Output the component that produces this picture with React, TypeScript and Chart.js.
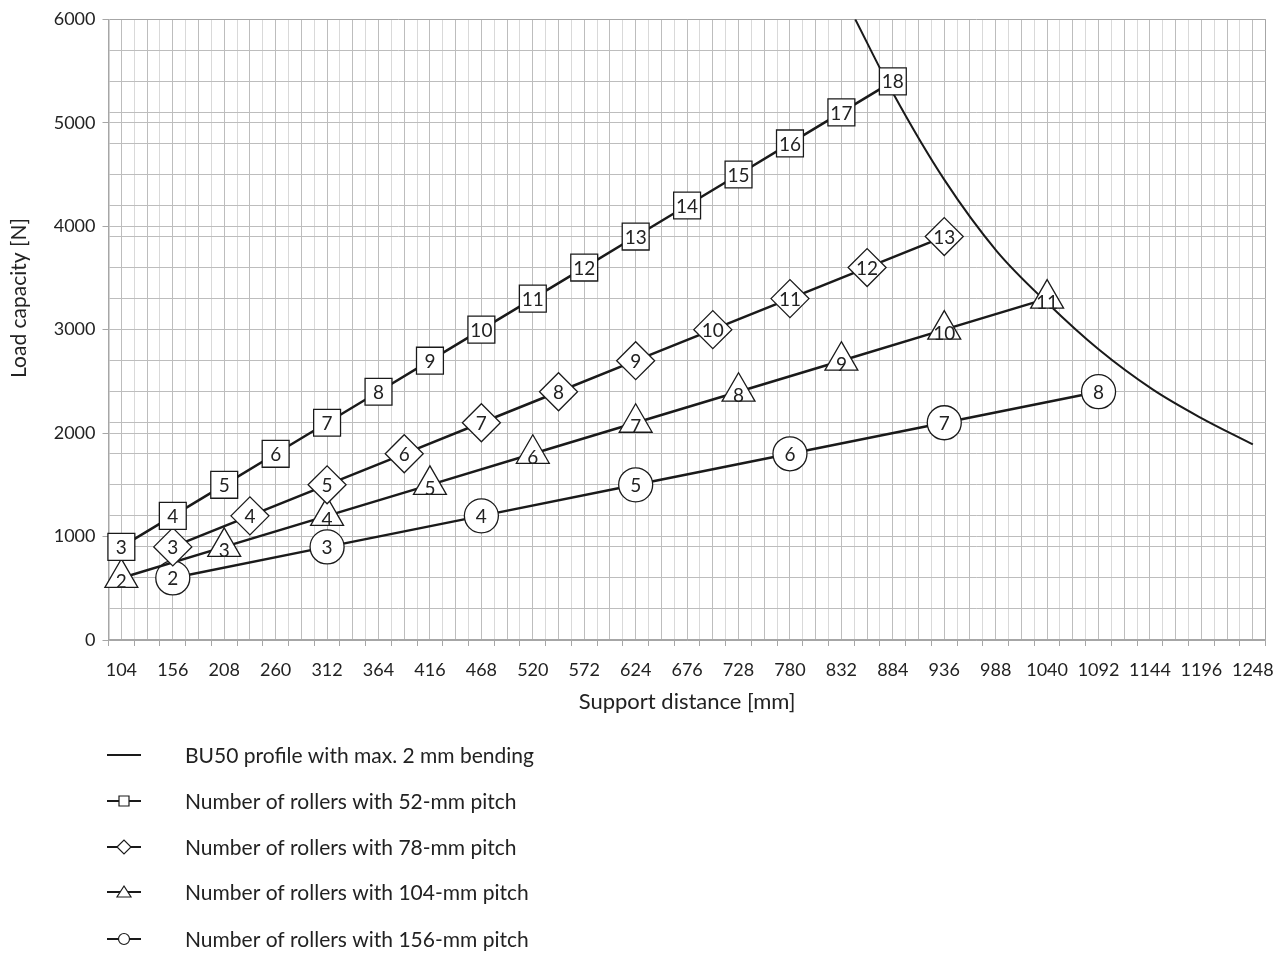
import React, { useEffect, useRef } from 'react';
import { Chart, registerables } from 'chart.js';

Chart.register(...registerables);

const FONT = 'Lato, "DejaVu Sans", sans-serif';
const TEXT = '#222222';
const LINE = '#1a1a1a';
const AXIS = '#a6a6a6';
const GRID_DARK = '#bdbdbd';
const GRID_LIGHT = '#d9d9d9';

// tick labels
const xTickLabels = [104, 156, 208, 260, 312, 364, 416, 468, 520, 572, 624, 676, 728, 780, 832, 884, 936, 988, 1040, 1092, 1144, 1196, 1248];
const yTickLabels = [0, 1000, 2000, 3000, 4000, 5000, 6000];

// 52-mm pitch
const rollers52 = [3, 4, 5, 6, 7, 8, 9, 10, 11, 12, 13, 14, 15, 16, 17, 18];
const dist52 = [104, 156, 208, 260, 312, 364, 416, 468, 520, 572, 624, 676, 728, 780, 832, 884];
const load52 = [900, 1200, 1500, 1800, 2100, 2400, 2700, 3000, 3300, 3600, 3900, 4200, 4500, 4800, 5100, 5400];

// 78-mm pitch
const rollers78 = [3, 4, 5, 6, 7, 8, 9, 10, 11, 12, 13];
const dist78 = [156, 234, 312, 390, 468, 546, 624, 702, 780, 858, 936];
const load78 = [900, 1200, 1500, 1800, 2100, 2400, 2700, 3000, 3300, 3600, 3900];

// 104-mm pitch
const rollers104 = [2, 3, 4, 5, 6, 7, 8, 9, 10, 11];
const dist104 = [104, 208, 312, 416, 520, 624, 728, 832, 936, 1040];
const load104 = [600, 900, 1200, 1500, 1800, 2100, 2400, 2700, 3000, 3300];

// 156-mm pitch
const rollers156 = [2, 3, 4, 5, 6, 7, 8];
const dist156 = [156, 312, 468, 624, 780, 936, 1092];
const load156 = [600, 900, 1200, 1500, 1800, 2100, 2400];

// BU50 profile limit curve
const bu50Dist = [846, 884, 936, 989, 1040, 1092, 1147, 1195, 1248];
const bu50Load = [6000, 5290, 4450, 3760, 3260, 2810, 2420, 2150, 1890];

const seriesLabels = [
  'BU50 profile with max. 2 mm bending',
  'Number of rollers with 52-mm pitch',
  'Number of rollers with 78-mm pitch',
  'Number of rollers with 104-mm pitch',
  'Number of rollers with 156-mm pitch',
];

const toPoints = (xs: number[], ys: number[]) => xs.map((x, i) => ({ x, y: ys[i] }));

const markerNumbers = {
  id: 'markerNumbers',
  afterDatasetsDraw(chart: any) {
    const ctx = chart.ctx;
    ctx.save();
    ctx.font = `19px ${FONT}`;
    ctx.fillStyle = TEXT;
    ctx.textAlign = 'center';
    ctx.textBaseline = 'middle';
    chart.data.datasets.forEach((ds: any, i: number) => {
      if (!ds.counts) return;
      const meta = chart.getDatasetMeta(i);
      meta.data.forEach((pt: any, j: number) => {
        const dy = ds.pointStyle === 'triangle' ? 4 : 1;
        ctx.fillText(String(ds.counts[j]), pt.x, pt.y + dy);
      });
    });
    ctx.restore();
  },
};

const yTitle = {
  id: 'yTitle',
  afterDraw(chart: any) {
    const ctx = chart.ctx;
    ctx.save();
    ctx.translate(11, 290);
    ctx.rotate(-Math.PI / 2);
    ctx.font = `21px ${FONT}`;
    ctx.fillStyle = TEXT;
    ctx.textAlign = 'center';
    ctx.textBaseline = 'middle';
    ctx.fillText('Load capacity [N]', 0, 0);
    ctx.restore();
  },
};

const legendPlugin = {
  id: 'listLegend',
  afterDraw(chart: any) {
    const ctx = chart.ctx;
    const rows = [747, 793, 839, 884, 931];
    const styles = ['line', 'rect', 'rectRot', 'triangle', 'circle'];
    ctx.save();
    rows.forEach((y, i) => {
      ctx.strokeStyle = LINE;
      ctx.lineWidth = 2;
      ctx.beginPath();
      ctx.moveTo(99, y);
      ctx.lineTo(133, y);
      ctx.stroke();
      const cx = 116;
      const st = styles[i];
      ctx.fillStyle = '#ffffff';
      ctx.lineWidth = 1.2;
      ctx.beginPath();
      if (st === 'rect') {
        ctx.rect(cx - 5, y - 5, 10, 10);
      } else if (st === 'rectRot') {
        ctx.moveTo(cx - 7, y);
        ctx.lineTo(cx, y - 7);
        ctx.lineTo(cx + 7, y);
        ctx.lineTo(cx, y + 7);
        ctx.closePath();
      } else if (st === 'triangle') {
        ctx.moveTo(cx, y - 6);
        ctx.lineTo(cx + 7, y + 5);
        ctx.lineTo(cx - 7, y + 5);
        ctx.closePath();
      } else if (st === 'circle') {
        ctx.arc(cx, y, 5.5, 0, Math.PI * 2);
      }
      if (st !== 'line') {
        ctx.fill();
        ctx.stroke();
      }
      ctx.fillStyle = TEXT;
      ctx.font = `21px ${FONT}`;
      ctx.textAlign = 'left';
      ctx.textBaseline = 'middle';
      ctx.fillText(seriesLabels[i], 177, y + 1);
    });
    ctx.restore();
  },
};

export default function App() {
  const ref = useRef<HTMLCanvasElement>(null);

  useEffect(() => {
    const prevMargin = document.body.style.marginBottom;
    document.body.style.marginBottom = '0px';
    const canvas = ref.current;
    if (!canvas) return;

    const markerDs = (label: string, xs: number[], ys: number[], counts: number[], style: string, radius: number) => ({
      label,
      data: toPoints(xs, ys),
      counts,
      borderColor: LINE,
      borderWidth: 2.5,
      pointStyle: style,
      pointRadius: radius,
      pointHoverRadius: radius,
      pointBackgroundColor: '#ffffff',
      pointBorderColor: LINE,
      pointBorderWidth: 1.3,
      fill: false,
      tension: 0,
      clip: false,
      order: 1,
    });

    const zeroPad = (s: any) => {
      s.paddingTop = 0;
      s.paddingBottom = 0;
      s.paddingLeft = 0;
      s.paddingRight = 0;
    };

    const chart = new Chart(canvas, {
      type: 'line',
      data: {
        datasets: [
          {
            label: seriesLabels[0],
            data: toPoints(bu50Dist, bu50Load),
            borderColor: LINE,
            borderWidth: 2,
            pointRadius: 0,
            pointHoverRadius: 0,
            cubicInterpolationMode: 'monotone',
            fill: false,
            order: 10,
          } as any,
          markerDs(seriesLabels[1], dist52, load52, rollers52, 'rect', 19),
          markerDs(seriesLabels[2], dist78, load78, rollers78, 'rectRot', 19),
          markerDs(seriesLabels[3], dist104, load104, rollers104, 'triangle', 19),
          markerDs(seriesLabels[4], dist156, load156, rollers156, 'circle', 17),
        ],
      },
      options: {
        animation: false,
        responsive: true,
        maintainAspectRatio: false,
        events: [],
        layout: { autoPadding: false, padding: { left: 0, right: 14.3, top: 11.3, bottom: 239 } },
        plugins: {
          legend: { display: false },
          tooltip: { enabled: false },
        },
        scales: {
          x: {
            type: 'linear',
            min: 91,
            max: 1261,
            ticks: {
              stepSize: 13,
              autoSkip: false,
              maxRotation: 0,
              minRotation: 0,
              padding: 13,
              color: TEXT,
              font: { family: FONT, size: 18 },
              callback: (v: any) => (xTickLabels.includes(Number(v)) ? String(v) : ''),
            },
            grid: {
              lineWidth: 1,
              tickLength: 6,
              color: (c: any) => {
                const v = c.tick ? c.tick.value : 0;
                if (v === 91 || v === 1261) return AXIS;
                return (v - 104) % 26 === 0 ? GRID_DARK : GRID_LIGHT;
              },
              tickColor: (c: any) => {
                const v = c.tick ? c.tick.value : 0;
                return (v - 91) % 26 === 0 ? AXIS : 'rgba(0,0,0,0)';
              },
            },
            border: { display: true, color: AXIS, width: 1.5 },
            title: {
              display: true,
              text: 'Support distance [mm]',
              color: TEXT,
              font: { family: FONT, size: 22 },
              padding: 0,
            },
            afterFit: (s: any) => {
              s.height = 75;
              zeroPad(s);
            },
          },
          y: {
            type: 'linear',
            min: 0,
            max: 6000,
            ticks: {
              stepSize: 100,
              autoSkip: false,
              padding: 7,
              color: TEXT,
              font: { family: FONT, size: 18 },
              callback: (v: any) => (yTickLabels.includes(Number(v)) ? String(v) : ''),
            },
            grid: {
              lineWidth: 1,
              tickLength: 6,
              color: (c: any) => {
                const v = c.tick ? c.tick.value : 0;
                if (v === 6000 || v === 0) return AXIS;
                return v % 300 === 0 || v % 1000 === 0 ? GRID_DARK : 'rgba(0,0,0,0)';
              },
              tickColor: (c: any) => {
                const v = c.tick ? c.tick.value : 0;
                return v % 1000 === 0 ? AXIS : 'rgba(0,0,0,0)';
              },
            },
            border: { display: true, color: AXIS, width: 1.5 },
            afterFit: (s: any) => {
              s.width = 100.5;
              zeroPad(s);
            },
          },
        },
      } as any,
      plugins: [markerNumbers, yTitle, legendPlugin],
    });

    return () => {
      chart.destroy();
      document.body.style.marginBottom = prevMargin;
    };
  }, []);

  return (
    <div style={{ position: 'relative', width: 1272, height: 946 }}>
      <canvas ref={ref} />
    </div>
  );
}
